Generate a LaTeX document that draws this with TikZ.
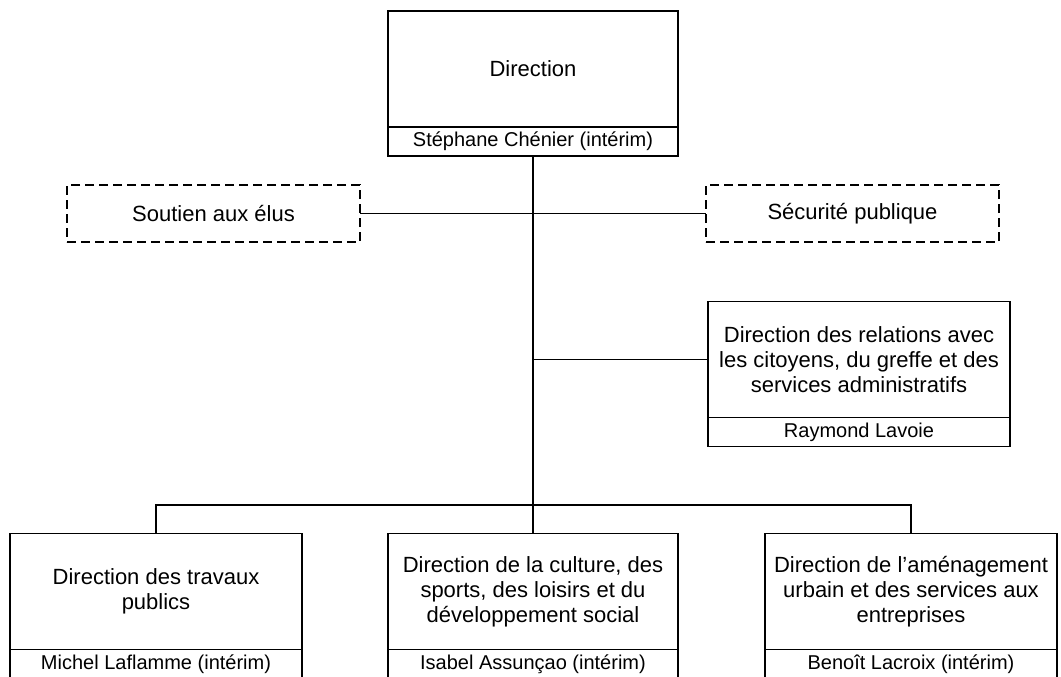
\documentclass[tikz,border=0pt]{standalone}
\usepackage{fontspec}
\setmainfont{Liberation Sans}
\usetikzlibrary{positioning}

\begin{document}
\begin{tikzpicture}[x=1pt,y=1pt,
    dirbox/.style={draw,line width=1.2pt,minimum width=#1,minimum height=116pt,
      inner sep=0pt,outer sep=0pt,align=center,font=\fontsize{22}{25}\selectfont},
    namebox/.style={draw,line width=1.2pt,minimum width=#1,minimum height=29pt,
      inner sep=0pt,outer sep=0pt,font=\fontsize{20}{22}\selectfont},
    staffbox/.style={draw,line width=1.6pt,dash pattern=on 9pt off 5pt,
      minimum width=293pt,minimum height=57pt,inner sep=0pt,outer sep=0pt,
      font=\fontsize{22}{25}\selectfont},
    link/.style={line width=1.2pt},
    spine/.style={line width=2.4pt}]
  \useasboundingbox (0,0) rectangle (1061,-677);
  % direction
  \node[dirbox=290pt] at (533,-69) (dir) {Direction};
  \node[namebox=290pt,below=0pt of dir] (dirwho) {Stéphane Chénier (intérim)};
  %
  \node[staffbox] at (213.5,-213.5) (soutien) {Soutien aux élus};
  \node[staffbox] at (852.5,-213.5) (securite) {Sécurité publique};
  %
  \node[dirbox=302pt] at (859,-359.5) (rel) {Direction des relations avec\\les citoyens, du greffe et des\\services administratifs};
  \node[namebox=302pt,below=0pt of rel] (relwho) {Raymond Lavoie};
  %
  \node[dirbox=292pt] at (156,-591.5) (trav) {Direction des travaux\\publics};
  \node[namebox=292pt,below=0pt of trav] (travwho) {Michel Laflamme (intérim)};
  \node[dirbox=290pt] at (533,-591.5) (cult) {Direction de la culture, des\\sports, des loisirs et du\\développement social};
  \node[namebox=290pt,below=0pt of cult] (cultwho) {Isabel Assunçao (intérim)};
  \node[dirbox=292pt] at (911,-591.5) (amen) {Direction de l’aménagement\\urbain et des services aux\\entreprises};
  \node[namebox=292pt,below=0pt of amen] (amenwho) {Benoît Lacroix (intérim)};
  %
  \coordinate (bus) at (533,-505);
  \draw[link] (soutien.east) -- (securite.west);
  \draw[link] (rel.west) -- (rel.west -| dirwho.south);
  \draw[link] (trav.north) |- (bus) -| (amen.north);
  \draw[spine] (dirwho.south) -- (cult.north);
\end{tikzpicture}
\end{document}
